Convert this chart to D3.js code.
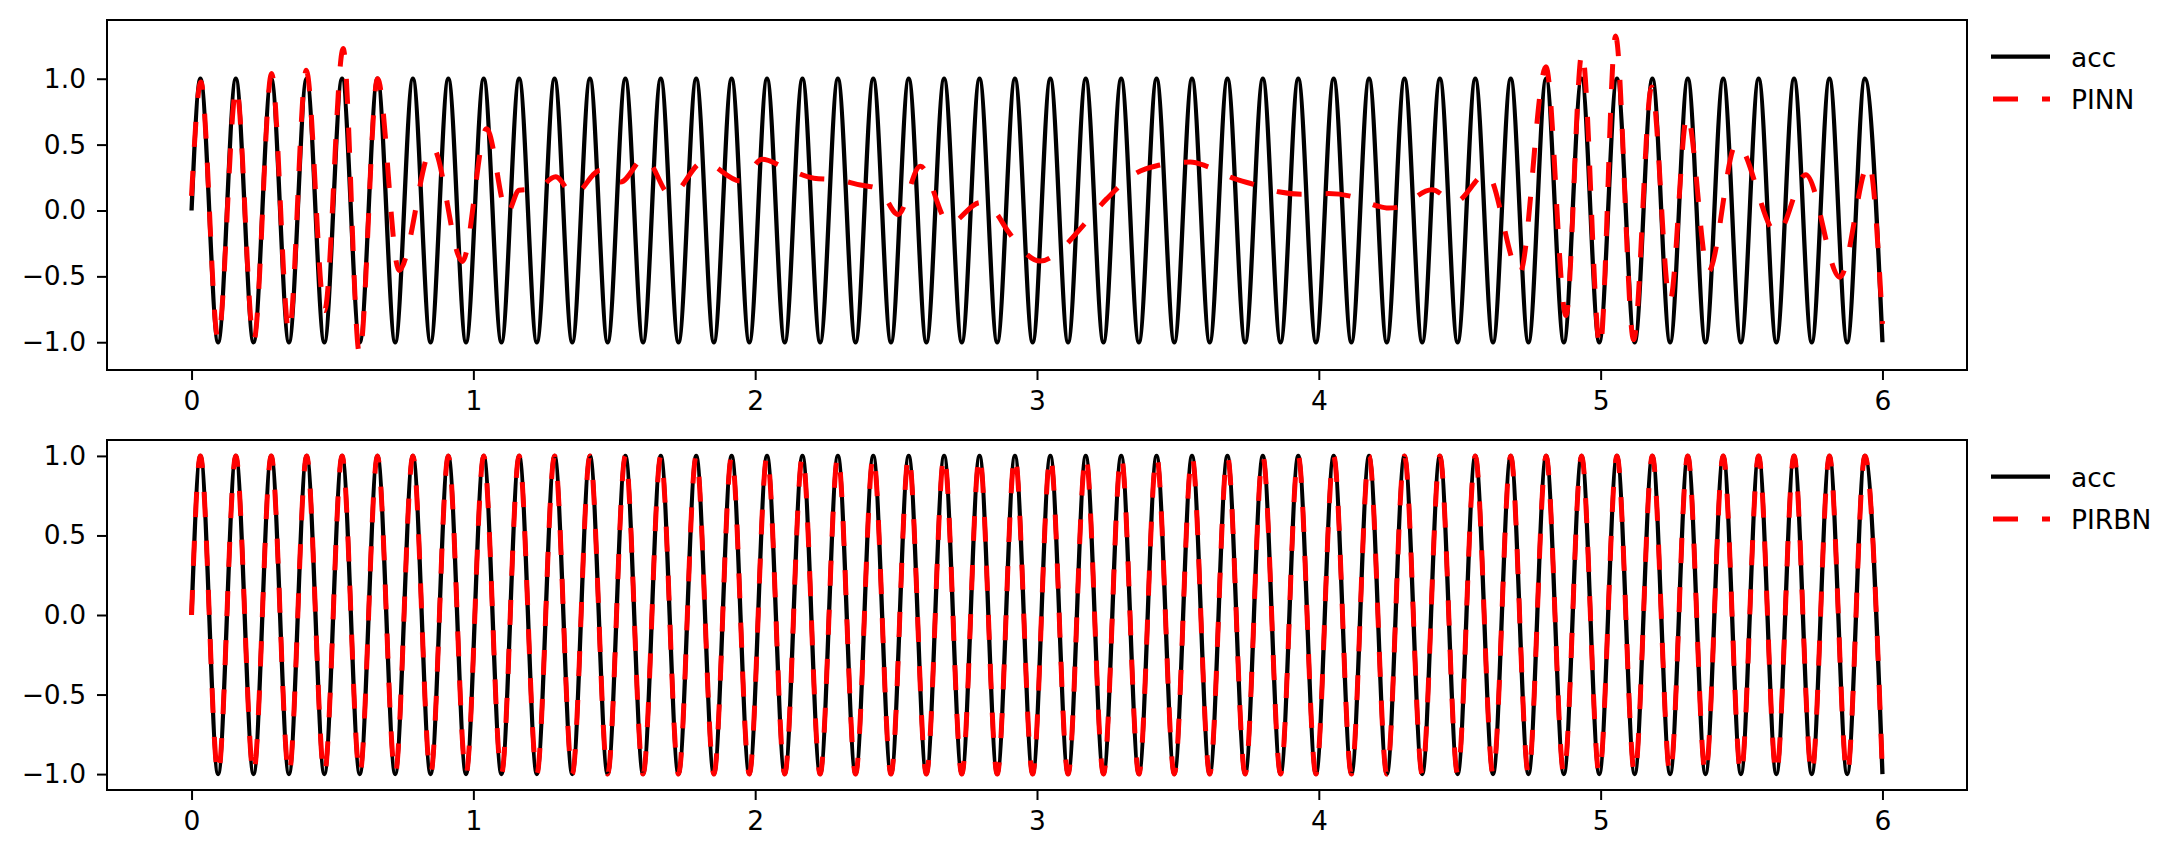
<!DOCTYPE html>
<html>
<head>
<meta charset="utf-8">
<script src="https://cdn.jsdelivr.net/npm/d3@7"></script>
<style>
  html, body { margin: 0; padding: 0; background: #fff; }
  svg { display: block; }
  text { font-family: "DejaVu Sans", sans-serif; }
</style>
</head>
<body>
<svg id="chart" width="2184" height="857"></svg>
<script>
// ---------------- data ----------------
// times of the extrema of the exact ("acc") signal, plus its start and end
const accT = [0, 0.0314, 0.0942, 0.1571, 0.2199, 0.2827, 0.3456, 0.4084, 0.4712, 0.5341, 0.5969,
  0.6597, 0.7226, 0.7854, 0.8482, 0.9111, 0.9739, 1.0367, 1.0996, 1.1624, 1.2252, 1.2881, 1.3509,
  1.4137, 1.4765, 1.5394, 1.6022, 1.6650, 1.7279, 1.7907, 1.8535, 1.9164, 1.9792, 2.0420, 2.1049,
  2.1677, 2.2305, 2.2934, 2.3562, 2.4190, 2.4819, 2.5447, 2.6075, 2.6704, 2.7332, 2.7960, 2.8588,
  2.9217, 2.9845, 3.0473, 3.1102, 3.1730, 3.2358, 3.2987, 3.3615, 3.4243, 3.4872, 3.5500, 3.6128,
  3.6757, 3.7385, 3.8013, 3.8642, 3.9270, 3.9898, 4.0527, 4.1155, 4.1783, 4.2412, 4.3040, 4.3668,
  4.4296, 4.4925, 4.5553, 4.6181, 4.6810, 4.7438, 4.8066, 4.8695, 4.9323, 4.9951, 5.0580, 5.1208,
  5.1836, 5.2465, 5.3093, 5.3721, 5.4350, 5.4978, 5.5606, 5.6235, 5.6863, 5.7491, 5.8119, 5.8748,
  5.9376, 6.0];
const accY = [0,
  1, -1, 1, -1, 1, -1, 1, -1, 1, -1, 1, -1, 1, -1, 1, -1, 1, -1, 1, -1,
  1, -1, 1, -1, 1, -1, 1, -1, 1, -1, 1, -1, 1, -1, 1, -1, 1, -1, 1, -1,
  1, -1, 1, -1, 1, -1, 1, -1, 1, -1, 1, -1, 1, -1, 1, -1, 1, -1, 1, -1,
  1, -1, 1, -1, 1, -1, 1, -1, 1, -1, 1, -1, 1, -1, 1, -1, 1, -1, 1, -1,
  1, -1, 1, -1, 1, -1, 1, -1, 1, -1, 1, -1, 1, -1,
  1, -1];

// PIRBN prediction: sits on the exact curve at the same extrema
const pirbnT = accT;
const pirbnY = [0,
  1, -1, 1, -1, 1, -1, 1, -1, 1, -1, 1, -1, 1, -1, 1, -1, 1, -1, 1, -1,
  1, -1, 1, -1, 1, -1, 1, -1, 1, -1, 1, -1, 1, -1, 1, -1, 1, -1, 1, -1,
  1, -1, 1, -1, 1, -1, 1, -1, 1, -1, 1, -1, 1, -1, 1, -1, 1, -1, 1, -1,
  1, -1, 1, -1, 1, -1, 1, -1, 1, -1, 1, -1, 1, -1, 1, -1, 1, -1, 1, -1,
  1, -1, 1, -1, 1, -1, 1, -1, 1, -1, 1, -1, 1, -1,
  1, -1];

// PINN prediction: key points
const pinnT = [0, 0.033, 0.094, 0.159, 0.221, 0.284, 0.346, 0.407, 0.472, 0.538, 0.596, 0.660,
  0.736, 0.855, 0.961, 1.047, 1.120, 1.162, 1.227, 1.292, 1.355, 1.451, 1.522, 1.608, 1.700,
  1.816, 1.948, 2.025, 2.101, 2.208, 2.300, 2.362, 2.438, 2.507, 2.586, 2.689, 2.799, 2.852,
  2.899, 3.012, 3.100, 3.159, 3.248, 3.349, 3.425, 3.544, 3.603, 3.691, 3.768, 3.857, 3.940,
  4.034, 4.117, 4.205, 4.247, 4.282, 4.401, 4.483, 4.596, 4.713, 4.806, 4.877, 4.934, 4.998,
  5.053, 5.117, 5.181, 5.246, 5.307, 5.382, 5.482, 5.626, 5.728, 5.849, 5.952, 6.0];
const pinnY = [0.11, 0.976, -0.975, 0.93, -0.987, 1.04, -0.924, 1.065, -0.76, 1.229, -1.09, 1.0,
  -0.455, 0.48, -0.387, 0.62, -0.02, 0.153, 0.165, 0.256, 0.118, 0.305, 0.216, 0.40, 0.115,
  0.368, 0.224, 0.388, 0.33, 0.245, 0.23, 0.198, 0.165, -0.03, 0.335, -0.10, 0.06, -0.012,
  -0.164, -0.384, -0.265, -0.126, 0.09, 0.28, 0.34, 0.368, 0.335, 0.249, 0.198, 0.142, 0.123,
  0.128, 0.107, 0.036, 0.018, 0.025, 0.158, 0.064, 0.28, -0.475, 1.09, -0.797, 1.20, -1.04,
  1.325, -0.98, 0.938, -0.69, 0.723, -0.465, 0.507, -0.176, 0.272, -0.506, 0.356, -0.86];

const xTicks = [0, 1, 2, 3, 4, 5, 6];
const yTicks = [-1.0, -0.5, 0.0, 0.5, 1.0];
const topLabels = ["acc", "PINN"];
const bottomLabels = ["acc", "PIRBN"];

// ---------------- layout ----------------
const FONT = 26.5;
const left = 107, right = 1967;
const panels = [
  { top: 20, bottom: 370, series: [[accT, accY], [pinnT, pinnY]], labels: topLabels },
  { top: 440, bottom: 790, series: [[accT, accY], [pirbnT, pirbnY]], labels: bottomLabels }
];
const styles = [
  { stroke: "#000000", width: 4.3, dash: null },
  { stroke: "#ff0000", width: 5, dash: "25,24" }
];

function padded(ext) {
  const r = ext[1] - ext[0];
  return [ext[0] - 0.05 * r, ext[1] + 0.05 * r];
}

const svg = d3.select("#chart");
svg.append("rect").attr("width", 2184).attr("height", 857).attr("fill", "#fff");

const xAll = d3.extent(accT.concat(pinnT));
const x = d3.scaleLinear().domain(padded(xAll)).range([left, right]);

panels.forEach((p, pi) => {
  const yVals = [];
  p.series.forEach(s => s[1].forEach(v => yVals.push(v)));
  const y = d3.scaleLinear().domain(padded(d3.extent(yVals))).range([p.bottom, p.top]);
  const g = svg.append("g");

  const clipId = "clip" + pi;
  g.append("clipPath").attr("id", clipId)
    .append("rect").attr("x", left).attr("y", p.top)
    .attr("width", right - left).attr("height", p.bottom - p.top);

  const line = d3.line().x(d => x(d[0])).y(d => y(d[1])).curve(d3.curveMonotoneX);

  p.series.forEach((s, si) => {
    const pts = s[0].map((t, i) => [t, s[1][i]]);
    const st = styles[si];
    const path = g.append("path")
      .attr("clip-path", `url(#${clipId})`)
      .attr("d", line(pts))
      .attr("fill", "none")
      .attr("stroke", st.stroke)
      .attr("stroke-width", st.width)
      .attr("stroke-linejoin", "round")
      .attr("stroke-linecap", "butt");
    if (st.dash) path.attr("stroke-dasharray", st.dash);
  });

  // axes
  const xa = g.append("g").attr("transform", `translate(0,${p.bottom})`)
    .call(d3.axisBottom(x).tickValues(xTicks).tickFormat(d3.format("d")).tickSize(10).tickPadding(11));
  const ya = g.append("g").attr("transform", `translate(${left},0)`)
    .call(d3.axisLeft(y).tickValues(yTicks).tickFormat(d3.format(".1f")).tickSize(10).tickPadding(11));
  [xa, ya].forEach(a => {
    a.select(".domain").remove();
    a.selectAll(".tick line").attr("stroke", "#000").attr("stroke-width", 2);
    a.selectAll(".tick text").attr("fill", "#000").style("font-size", FONT + "px")
      .style("font-family", "'DejaVu Sans', sans-serif");
  });

  // frame (spines)
  g.append("rect").attr("x", left).attr("y", p.top)
    .attr("width", right - left).attr("height", p.bottom - p.top)
    .attr("fill", "none").attr("stroke", "#000").attr("stroke-width", 2);

  // legend
  const lg = g.append("g");
  p.labels.forEach((lab, i) => {
    const ly = p.top + 36.7 + i * 42.3;
    const st = styles[i];
    const ln = lg.append("line").attr("x1", 1991).attr("x2", 2050).attr("y1", ly).attr("y2", ly)
      .attr("stroke", st.stroke).attr("stroke-width", st.width);
    if (st.dash) ln.attr("stroke-dasharray", st.dash).attr("stroke-dashoffset", -2);
    lg.append("text").attr("x", 2071).attr("y", ly + 10)
      .style("font-size", FONT + "px").attr("fill", "#000").text(lab);
  });
});
</script>
</body>
</html>
